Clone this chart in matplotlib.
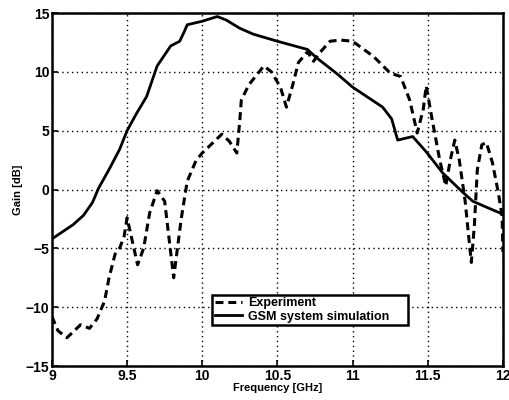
import numpy as np
import matplotlib
matplotlib.use('Agg')
import matplotlib.pyplot as plt

# GSM system simulation (solid)
sim_freq = [9.0, 9.07, 9.14, 9.21, 9.27, 9.31, 9.38, 9.45, 9.5, 9.56, 9.63, 9.70, 9.79,
            9.85, 9.88, 9.90, 10.0, 10.10, 10.16, 10.25, 10.34, 10.50, 10.70, 10.76,
            10.90, 11.0, 11.2, 11.26, 11.30, 11.40, 11.49, 11.60, 11.73, 11.80, 11.89, 12.0]
sim_gain = [-4.2, -3.6, -3.0, -2.2, -1.1, 0.1, 1.7, 3.4, 5.0, 6.4, 7.9, 10.5, 12.2,
            12.6, 13.4, 14.0, 14.3, 14.7, 14.4, 13.7, 13.2, 12.6, 11.9, 11.2,
            9.8, 8.7, 7.0, 6.0, 4.2, 4.5, 3.2, 1.4, -0.2, -1.0, -1.5, -2.1]

# Experiment (dashed)
exp_freq = [9.0, 9.04, 9.10, 9.19, 9.25, 9.30, 9.35, 9.38, 9.42, 9.45, 9.48, 9.50,
            9.57, 9.61, 9.65, 9.70, 9.75, 9.81, 9.86, 9.90, 9.96, 10.0, 10.13,
            10.18, 10.23, 10.25, 10.26, 10.31, 10.41, 10.46, 10.52, 10.56, 10.60,
            10.64, 10.70, 10.74, 10.78, 10.85, 10.92, 11.0, 11.14, 11.25, 11.32,
            11.38, 11.43, 11.47, 11.49, 11.53, 11.58, 11.62, 11.65, 11.68, 11.71,
            11.75, 11.77, 11.79, 11.81, 11.83, 11.86, 11.89, 11.93, 11.97, 11.995, 12.0]
exp_gain = [-10.8, -12.0, -12.6, -11.5, -11.8, -11.0, -9.5, -7.5, -5.5, -5.0, -4.0, -2.4,
            -6.4, -5.0, -2.0, -0.1, -1.0, -7.5, -2.5, 0.7, 2.5, 3.1, 4.7,
            4.1, 3.1, 5.9, 7.6, 8.9, 10.5, 10.0, 8.7, 7.0, 8.8,
            10.8, 11.7, 10.9, 11.6, 12.6, 12.7, 12.6, 11.3, 9.9, 9.6,
            7.6, 4.8, 6.8, 8.8, 5.9, 2.5, 0.3, 2.5, 4.2, 2.5,
            -1.1, -3.7, -6.2, -3.1, 1.7, 3.8, 4.0, 2.3, -0.3, -2.3, -5.3]

x_ticks = [9, 9.5, 10, 10.5, 11, 11.5, 12]
x_tick_labels = ['9', '9.5', '10', '10.5', '11', '11.5', '12']
y_ticks = [-15, -10, -5, 0, 5, 10, 15]

plt.rcParams['font.family'] = ['Liberation Sans', 'DejaVu Sans']

fig = plt.figure(figsize=(5.09, 4.0), dpi=100)
ax = fig.add_axes([0.102, 0.085, 0.886, 0.8825])

ax.plot(exp_freq, exp_gain, color='black', linewidth=2.2, linestyle=(0, (2.6, 1.6)),
        label='Experiment')
ax.plot(sim_freq, sim_gain, color='black', linewidth=2.0, label='GSM system simulation')

ax.set_xlim(9, 12)
ax.set_ylim(-15, 15)
ax.set_xticks(x_ticks)
ax.set_xticklabels(x_tick_labels)
ax.set_yticks(y_ticks)
ax.grid(True, color='black', linestyle=(0, (1, 2.5)), linewidth=1.0)
ax.tick_params(direction='in', length=4, width=1.2, labelsize=10, pad=2)
for lab in ax.get_xticklabels() + ax.get_yticklabels():
    lab.set_fontweight('bold')
for sp in ax.spines.values():
    sp.set_linewidth(1.8)

ax.set_xlabel('Frequency [GHz]', fontsize=8, fontweight='bold', labelpad=0)
ax.set_ylabel('Gain [dB]', fontsize=8, fontweight='bold', labelpad=2)

leg = ax.legend(loc='lower left', bbox_to_anchor=(0.355, 0.116, 0.435, 0.104),
                mode='expand', fancybox=False, framealpha=1, edgecolor='black',
                prop={'size': 9, 'weight': 'bold'}, handlelength=2.2,
                borderpad=0.2, labelspacing=0.1, borderaxespad=0, handletextpad=0.5)
leg.get_frame().set_linewidth(1.8)

fig.savefig('out.png', dpi=100)
